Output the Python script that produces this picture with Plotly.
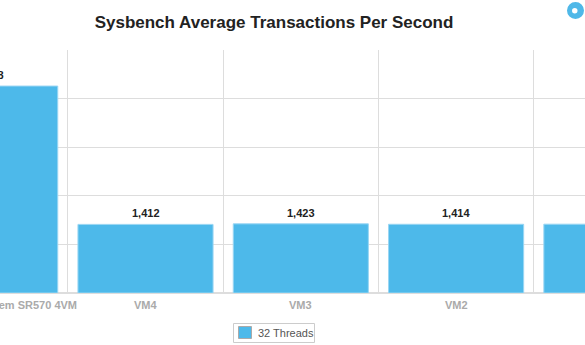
import plotly.graph_objects as go

# Sysbench results, 32 threads
categories = ["Lenovo ThinkSystem SR570 4VM", "VM4", "VM3", "VM2", "VM1"]
tps_32_threads = [4258, 1412, 1423, 1414, 1416]
series_name = "32 Threads"
title_text = "Sysbench Average Transactions Per Second"

W, H = 585, 345
M_TOP, M_BOT = 50, 52
plot_h = H - M_TOP - M_BOT

X_RANGE = [0.0631, 3.830]
Y_RANGE = [0, 5000]

FONT = "Liberation Sans, Arial, sans-serif"
bar_color = "#4db9ea"


def px_x(x):
    return x / W


def px_y(y):
    return (H - M_BOT - y) / plot_h


def cat_to_paper(i):
    # position of category i along the x axis, in paper units
    return (i - X_RANGE[0]) / (X_RANGE[1] - X_RANGE[0])


fig = go.Figure()
fig.add_trace(go.Bar(
    x=categories,
    y=tps_32_threads,
    name=series_name,
    width=0.87,
    marker=dict(color=bar_color, line=dict(color="#9ad6f3", width=1)),
    showlegend=False,
))

for i, (cat, val) in enumerate(zip(categories, tps_32_threads)):
    # value label above the bar
    fig.add_annotation(
        x=cat_to_paper(i), y=val, xref="paper", yref="y",
        text=f"<b>{val:,}</b>", showarrow=False,
        xanchor="center", yanchor="bottom", yshift=3,
        font=dict(family=FONT, size=11, color="#222222"),
    )
    # category label under the axis
    fig.add_annotation(
        x=cat_to_paper(i), y=0, xref="paper", yref="y",
        text=f"<b>{cat}</b>", showarrow=False,
        xanchor="center", yanchor="top", yshift=-4,
        font=dict(family=FONT, size=11, color="#aaaaaa"),
    )

# legend box with swatch
fig.add_shape(type="rect", xref="paper", yref="paper",
              x0=px_x(233.5), x1=px_x(314.5), y0=px_y(342.5), y1=px_y(323.5),
              line=dict(color="#cccccc", width=1), fillcolor="white")
fig.add_shape(type="rect", xref="paper", yref="paper",
              x0=px_x(238.5), x1=px_x(251.5), y0=px_y(338.5), y1=px_y(326.5),
              line=dict(color="#aaaaaa", width=1), fillcolor=bar_color)
fig.add_annotation(
    x=px_x(256), y=px_y(333), xref="paper", yref="paper",
    xanchor="left", yanchor="middle", showarrow=False,
    text=series_name, font=dict(family=FONT, size=11, color="#555555"),
)

# small round logo in the top-right corner
cx, cy, r = 575.5, 10.5, 8.5
fig.add_shape(type="circle", xref="paper", yref="paper",
              x0=px_x(cx - r), x1=px_x(cx + r), y0=px_y(cy + r), y1=px_y(cy - r),
              fillcolor="#4fb8e8", line=dict(width=0))
fig.add_shape(type="circle", xref="paper", yref="paper",
              x0=px_x(cx - 3.5), x1=px_x(cx + 2), y0=px_y(cy + 3), y1=px_y(cy - 2.5),
              fillcolor="white", line=dict(width=0))

fig.update_layout(
    width=W, height=H,
    margin=dict(l=0, r=0, t=M_TOP, b=M_BOT, pad=0, autoexpand=False),
    paper_bgcolor="white",
    plot_bgcolor="white",
    showlegend=False,
    font=dict(family=FONT, color="#555555"),
    title=dict(
        text=f"<b>{title_text}</b>",
        x=274 / W, xanchor="center", y=1 - 22 / H, yanchor="middle",
        font=dict(size=17, color="#222222"),
    ),
    xaxis=dict(
        type="category",
        range=X_RANGE,
        tickson="boundaries",
        showgrid=True, gridcolor="#dddddd", gridwidth=1,
        ticks="", showline=False, zeroline=False,
        showticklabels=False, automargin=False,
    ),
    yaxis=dict(
        range=Y_RANGE, dtick=1000,
        showgrid=True, gridcolor="#dddddd", gridwidth=1,
        showticklabels=False, zeroline=True, zerolinecolor="#dddddd",
        showline=False, automargin=False,
    ),
    bargap=0.13,
)

fig.write_html("out.html")
